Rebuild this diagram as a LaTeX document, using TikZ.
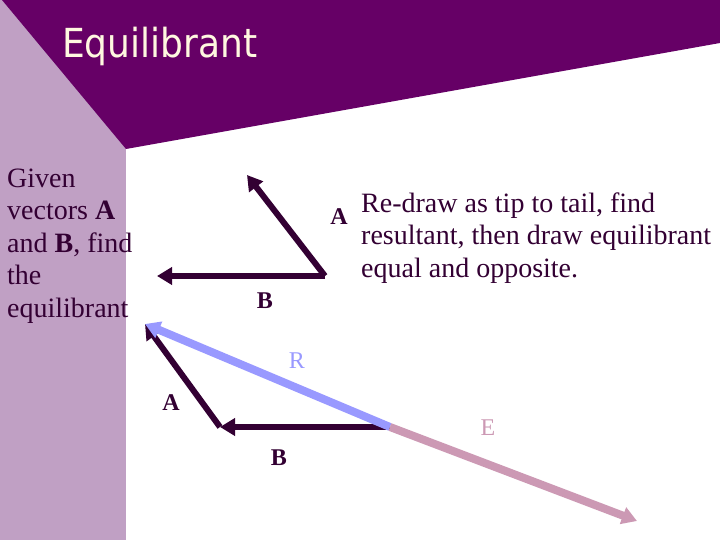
\documentclass[tikz,border=0pt]{standalone}
\usepackage{fontspec}
\setmainfont{Liberation Serif}
\newfontfamily\titlefont{DejaVu Sans Condensed}
\usepackage{tikz}
\usetikzlibrary{
  arrows.meta,
  calc,
  positioning,
}
\definecolor{plum}{RGB}{102, 0, 102}
\definecolor{lilac}{RGB}{192, 160, 196}
\definecolor{ink}{RGB}{51, 0, 51}
\definecolor{cream}{RGB}{255, 248, 224}
\definecolor{periwinkle}{RGB}{153, 153, 255}
\definecolor{mauve}{RGB}{204, 153, 180}
\tikzstyle{vec} = [
  -{Triangle[length=15pt, width=17pt]},
  line width=6pt,
  ink,
]
\tikzstyle{bigvec} = [
  vec,
  line width=8pt,
]
\tikzstyle{lbl} = [
  font=\fontsize{24}{28}\selectfont\bfseries,
  text=ink,
  inner sep=0pt,
]

\begin{document}
\begin{tikzpicture}[x=1pt, y=-1pt]
      \useasboundingbox (0,0) rectangle (720,540);
      % background: side strip and banner
      \fill [white] (0,0) rectangle (720,540);
      \fill [lilac] (0,0) rectangle (126,540);
      \fill [plum] (2,0) -- (126,149) -- (720,43) -- (720,0) -- cycle;
      \node [anchor=base west, inner sep=0pt, text=cream, font=\titlefont\fontsize{40}{48}\selectfont] (title) at (62,58) {Equilibrant};
      \node [anchor=base west, inner sep=0pt, align=left, text=ink, font=\fontsize{28}{32.5}\selectfont] (given) at (7,317)
        {Given\\vectors \textbf{A}\\and \textbf{B}, find\\the\\equilibrant};
      \node [anchor=base west, inner sep=0pt, align=left, text=ink, font=\fontsize{28}{32.5}\selectfont] (task) at (361,277)
        {Re-draw as tip to tail, find\\resultant, then draw equilibrant\\equal and opposite.};
      % given vectors
      \coordinate (o) at (325,276);
      \coordinate (tipA) at (247,175);
      \coordinate (tipB) at (157,276);
      \draw [vec] (o) -- (tipA);
      \draw [vec] (o) -- (tipB);
      \node [lbl] (labA) at (339,217) {A};
      \node [lbl] (labB) at (265,301) {B};
      % tip to tail
      \coordinate (tail) at (390,427);
      \coordinate (mid) at (220,427);
      \coordinate (end) at (145,324);
      \coordinate (tipE) at (637,521);
      \draw [vec] (tail) -- (mid);
      \draw [vec] (mid) -- (end);
      \draw [bigvec, periwinkle] (tail) -- (end);
      \draw [bigvec, mauve] (tail) -- (tipE);
      \node [lbl] (labA2) at (171,403) {A};
      \node [lbl] (labB2) at (279,458) {B};
      \node [lbl, font=\fontsize{24}{28}\selectfont, text=periwinkle] (labR) at (297,361) {R};
      \node [lbl, font=\fontsize{24}{28}\selectfont, text=mauve] (labE) at (488,428) {E};
    \end{tikzpicture}
\end{document}
